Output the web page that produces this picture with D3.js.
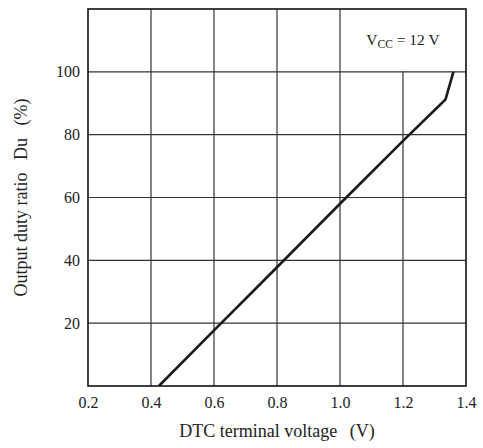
<!DOCTYPE html>
<html>
<head>
<meta charset="utf-8">
<script src="https://cdn.jsdelivr.net/npm/d3@7"></script>
<style>
  body { margin: 0; background: #fff; }
  svg text { font-family: "Liberation Serif", "Times New Roman", Times, "DejaVu Serif", serif; fill: #222; }
</style>
</head>
<body>
<div id="chart"></div>
<script>
// values
const xTicks = [0.2, 0.4, 0.6, 0.8, 1.0, 1.2, 1.4];
const yTicks = [20, 40, 60, 80, 100];
const voltage = [0.425, 0.6, 0.8, 1.0, 1.2, 1.335, 1.36];
const duty = [0, 17.7, 37.8, 58, 78, 91.2, 100];
const xLabel = 'DTC terminal voltage\u2002\u2009(V)';
const yLabel = 'Output duty ratio\u2002\u2009Du\u2002\u2009(%)';

const width = 483, height = 448;
const margin = { left: 88, right: 17, top: 9, bottom: 62 };
const serif = '"Liberation Serif", "Times New Roman", Times, serif';

const svg = d3.select('#chart').append('svg')
  .attr('width', width)
  .attr('height', height);

const x = d3.scaleLinear().domain([0.2, 1.4]).range([margin.left, width - margin.right]);
const y = d3.scaleLinear().domain([0, 120]).range([height - margin.bottom, margin.top]);

const grid = svg.append('g').attr('class', 'grid')
  .attr('stroke', '#333').attr('stroke-width', 1.2);

// horizontal grid lines
grid.selectAll('line.h').data(yTicks).enter()
  .append('line')
  .attr('class', 'h')
  .attr('x1', x(0.2)).attr('x2', x(1.4))
  .attr('y1', d => y(d)).attr('y2', d => y(d));

// vertical grid lines; 1.2 stops at 100 because of the label box
grid.selectAll('line.v').data(xTicks.slice(1, -1)).enter()
  .append('line')
  .attr('class', 'v')
  .attr('x1', d => x(d)).attr('x2', d => x(d))
  .attr('y1', d => d > 1.1 ? y(100) : y(120))
  .attr('y2', y(0));

// frame
svg.append('rect')
  .attr('x', x(0.2)).attr('y', y(120))
  .attr('width', x(1.4) - x(0.2))
  .attr('height', y(0) - y(120))
  .attr('fill', 'none')
  .attr('stroke', '#111')
  .attr('stroke-width', 1.6);

// axes, labels only
const xAxis = d3.axisBottom(x).tickValues(xTicks).tickFormat(d3.format('.1f')).tickSize(0).tickPadding(11);
svg.append('g')
  .attr('transform', `translate(0,${y(0)})`)
  .call(xAxis)
  .attr('font-family', serif)
  .attr('font-size', 16)
  .call(g => g.select('.domain').remove())
  .selectAll('text')
  .attr('fill', '#222');

const yAxis = d3.axisLeft(y).tickValues(yTicks).tickSize(0).tickPadding(8);
svg.append('g')
  .attr('transform', `translate(${x(0.2)},0)`)
  .call(yAxis)
  .attr('font-family', serif)
  .attr('font-size', 16)
  .call(g => g.select('.domain').remove())
  .selectAll('text')
  .attr('fill', '#222');

// curve
const pts = voltage.map((v, i) => [v, duty[i]]);
svg.append('path')
  .datum(pts)
  .attr('fill', 'none')
  .attr('stroke', '#1a1a1a')
  .attr('stroke-width', 2.6)
  .attr('stroke-linejoin', 'round')
  .attr('d', d3.line().x(d => x(d[0])).y(d => y(d[1])));

// condition label
const cond = svg.append('text')
  .attr('x', (x(1.0) + x(1.4)) / 2)
  .attr('y', y(110) + 5)
  .attr('text-anchor', 'middle')
  .attr('font-size', '15.5px');
cond.append('tspan').text('V');
cond.append('tspan').attr('font-size', '11.5px').attr('dy', 3).text('CC');
cond.append('tspan').attr('dy', -3).text(' = 12 V');

// axis titles
svg.append('text')
  .attr('x', (x(0.2) + x(1.4)) / 2)
  .attr('y', height - 11)
  .attr('text-anchor', 'middle')
  .attr('font-size', '18px')
  .text(xLabel);

svg.append('text')
  .attr('transform', `translate(27,${(y(0) + y(120)) / 2}) rotate(-90)`)
  .attr('text-anchor', 'middle')
  .attr('font-size', '18px')
  .text(yLabel);
</script>
</body>
</html>
